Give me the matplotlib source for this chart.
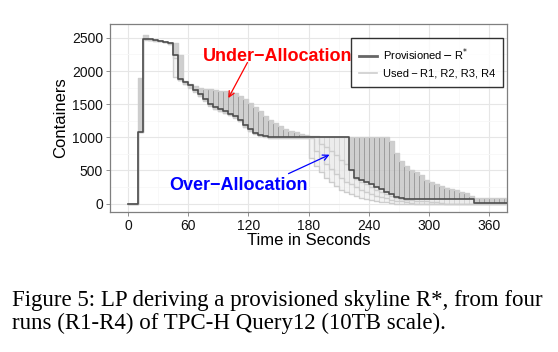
import numpy as np
import matplotlib
matplotlib.use("Agg")
import matplotlib.pyplot as plt
from matplotlib.lines import Line2D

# time grid of the skyline (one step every 5 s)
time_s = np.arange(0, 380, 5)

# provisioned skyline R*
provisioned = [
    0, 0, 1080, 2490, 2480, 2470, 2460, 2445, 2420, 2245,
    1878, 1830, 1790, 1720, 1650, 1580, 1500, 1450, 1420, 1390,
    1355, 1315, 1265, 1180, 1120, 1070, 1040, 1024,
    1010, 1010, 1010, 1010, 1010, 1010, 1010, 1010,
    1010, 1010, 1010, 1010, 1010, 1010, 1010, 1010,
    510, 380, 350, 320, 290, 250, 220, 180, 140, 105, 90,
    75, 75, 75, 75, 75, 75, 75, 75, 75, 75, 75, 75, 75, 75,
    12, 12, 12, 12, 12, 12, 12,
]

# used containers of the four runs
run_r1 = [
    0, 0, 1080, 2490, 2480, 2470, 2460, 2445, 2420, 2420,
    2240, 1850, 1810, 1770, 1745, 1735, 1725, 1715, 1705, 1695,
    1690, 1667, 1630, 1580, 1516, 1456, 1390, 1315,
    1265, 1215, 1165, 1124, 1099, 1074, 1054, 1039,
    1024, 1015, 1010, 1010, 1010, 1010, 1010, 1010,
    1010, 1010, 1010, 1010, 1010, 1010, 1010, 1010, 940, 763, 637,
    562, 510, 480, 430, 360, 320, 290, 265, 240, 225, 205, 180, 155, 115,
    85, 85, 85, 85, 85, 85, 85,
]
run_r2 = [
    0, 0, 1900, 2470, 2470, 2460, 2450, 2435, 2410, 1910,
    1860, 1800, 1760, 1700, 1630, 1560, 1480, 1430, 1400, 1370,
    1340, 1300, 1250, 1160, 1100, 1060, 1030, 1015,
    1000, 1000, 1000, 1000, 1000, 1000, 1000, 1000,
    1000, 1000, 900, 850, 790, 730, 660, 590,
    500, 370, 330, 290, 250, 210, 180, 140, 110, 90, 70,
    60, 50, 45, 40, 35, 30, 20, 10, 0, 0, 0, 0, 0, 0,
    0, 0, 0, 0, 0, 0, 0,
]
run_r3 = [
    0, 0, 1080, 2550, 2475, 2465, 2455, 2440, 2415, 2240,
    1870, 1815, 1775, 1705, 1640, 1570, 1490, 1440, 1410, 1380,
    1345, 1305, 1255, 1170, 1110, 1060, 1035, 1018,
    995, 995, 995, 995, 995, 995, 995, 995,
    995, 800, 700, 600, 520, 450, 390, 330,
    290, 250, 210, 180, 150, 120, 100, 80, 60, 45, 35,
    25, 15, 0, 0, 0, 0, 0, 0, 0, 0, 0, 0, 0, 0,
    0, 0, 0, 0, 0, 0, 0,
]
run_r4 = [
    0, 0, 1080, 2480, 2470, 2460, 2450, 2435, 2410, 2200,
    1860, 1800, 1750, 1690, 1620, 1550, 1470, 1430, 1400, 1370,
    1335, 1295, 1240, 1150, 1090, 1050, 1025, 1010,
    990, 990, 990, 990, 990, 990, 990, 990,
    690, 560, 470, 390, 320, 260, 210, 170,
    140, 110, 90, 70, 55, 40, 30, 20, 10, 0, 0,
    0, 0, 0, 0, 0, 0, 0, 0, 0, 0, 0, 0, 0, 0,
    0, 0, 0, 0, 0, 0, 0,
]
runs = [run_r1, run_r2, run_r3, run_r4]

plt.rcParams['font.family'] = ['Liberation Sans', 'DejaVu Sans']

fig = plt.figure(figsize=(5.58, 3.52), dpi=100)
ax = fig.add_axes([0.197, 0.398, 0.712, 0.534])

prov = np.array(provisioned, dtype=float)
step = 5

# shaded allocation gaps, one box per step and run
for run in runs:
    r = np.array(run, dtype=float)
    lo = np.minimum(prov, r)
    hi = np.maximum(prov, r)
    under = (r > prov)
    over = (r < prov)
    ax.bar(time_s[under], (hi - lo)[under], bottom=lo[under], width=step,
           align='edge', facecolor='#c4c4c4', edgecolor='#8a8a8a',
           linewidth=0.5, alpha=0.8, zorder=2)
    ax.bar(time_s[over], (hi - lo)[over], bottom=lo[over], width=step,
           align='edge', facecolor='#ebebeb', edgecolor='#cccccc',
           linewidth=0.5, alpha=0.6, zorder=2)

# used skylines and provisioned skyline
for run in runs:
    ax.step(np.append(time_s, 380), np.append(run, run[-1]), where='post',
            color='#cdcdcd', lw=1.0, zorder=3)
ax.step(np.append(time_s, 380), np.append(prov, prov[-1]), where='post',
        color='#4d4d4d', lw=1.2, zorder=4)

ax.set_xlim(-18.3, 378.4)
ax.set_ylim(-125, 2710)
ax.set_xticks(np.arange(0, 361, 60))
ax.set_yticks(np.arange(0, 2501, 500))
ax.set_xticks(np.arange(30, 380, 60), minor=True)
ax.set_yticks(np.arange(250, 2700, 500), minor=True)
ax.grid(True, which='major', color='#e6e6e6', lw=0.8, zorder=0)
ax.grid(True, which='minor', color='#f7f7f7', lw=0.6, zorder=0)
ax.set_axisbelow(True)
ax.tick_params(which='major', direction='out', length=3, width=0.6,
               color='#7f7f7f', labelsize=10, labelcolor='#111111', pad=2)
ax.tick_params(which='minor', length=0)
for s in ax.spines.values():
    s.set_color('#7f7f7f')
    s.set_linewidth(0.9)

ax.set_xlabel('Time in Seconds', fontsize=12, labelpad=0)
ax.set_ylabel('Containers', fontsize=12, labelpad=3)

# annotations
ax.text(149, 2214, 'Under\u2212Allocation', color='#ff0000', fontsize=13,
        fontweight='bold', ha='center', va='center', zorder=6)
ax.annotate('', xy=(100, 1592), xytext=(119, 2128), zorder=6,
            arrowprops=dict(arrowstyle='->', color='#ff0000', lw=0.9,
                            shrinkA=0, shrinkB=0))
ax.text(110, 271, 'Over\u2212Allocation', color='#0000ff', fontsize=13,
        fontweight='bold', ha='center', va='center', zorder=6)
ax.annotate('', xy=(201, 738), xytext=(160, 452), zorder=6,
            arrowprops=dict(arrowstyle='->', color='#0000ff', lw=0.9,
                            shrinkA=0, shrinkB=0))

handles = [Line2D([], [], color='#666666', lw=2),
           Line2D([], [], color='#cdcdcd', lw=1.2)]
leg = ax.legend(handles, [r'Provisioned$\,$$-$$\,$R$^{*}$',
                          'Used\u2009\u2212\u2009R1, R2, R3, R4'],
                loc='upper right', bbox_to_anchor=(0.99, 0.925),
                fontsize=8, frameon=True, fancybox=False,
                handlelength=1.6, handletextpad=0.5, borderpad=0.75,
                labelspacing=0.5, borderaxespad=0)
leg.get_frame().set_edgecolor('black')
leg.get_frame().set_linewidth(1.0)
leg.set_zorder(7)

fig.text(0.022, 0.176,
         'Figure 5: LP deriving a provisioned skyline R*, from four\n'
         'runs (R1-R4) of TPC-H Query12 (10TB scale).',
         family=['Liberation Serif', 'DejaVu Serif'], fontsize=16.5,
         ha='left', va='top', linespacing=1.1)

fig.savefig('out.png', dpi=100)
